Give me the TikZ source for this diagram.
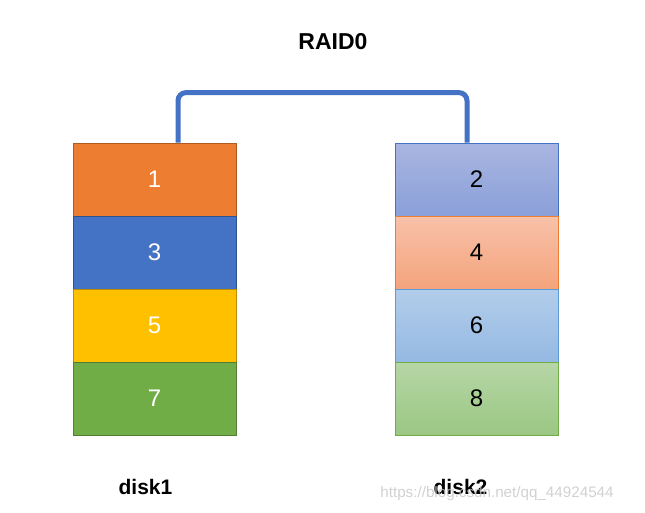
\documentclass[tikz,border=0pt]{standalone}
\usepackage{fontspec}
\setmainfont{Liberation Sans}
\usetikzlibrary{positioning}

\definecolor{raidblue}{HTML}{4472C4}

\begin{document}
\begin{tikzpicture}[x=1pt, y=-1pt,
    blk/.style={draw, minimum width=163pt, minimum height=73pt, inner sep=0pt,
                line width=0.8pt, font=\fontsize{24}{24}\selectfont},
    link/.style={line width=5pt, raidblue, rounded corners=8pt},
    lbl/.style={inner sep=0pt, font=\fontsize{21}{21}\selectfont\bfseries}]

        % 1. VARIABLES
        \def\XL{154.5}  % centre of disk1 column
        \def\XR{476.5}  % centre of disk2 column
        \def\YT{179.5}  % centre of the first stripe
        \def\H{73}      % height of one stripe

        \useasboundingbox (0,0) rectangle (645,512);

        % ==========================================
        % 2. DISK1 (odd stripes)
        % ==========================================
        \foreach \n/\r/\fc/\dc in {1/0/ED7D31/AE5A21, 3/1/4472C4/2F528F,
                                   5/2/FFC000/BC8C00, 7/3/70AD47/507E32} {
            \definecolor{fc}{HTML}{\fc}
            \definecolor{dc}{HTML}{\dc}
            \node[blk, fill=fc, draw=dc, text=white] (b\n) at (\XL, \YT+\r*\H) {\n};
        }

        % ==========================================
        % 3. DISK2 (even stripes, shaded)
        % ==========================================
        \foreach \n/\r/\tc/\bc/\dc in {2/0/A9B5E1/8AA0D8/4472C4, 4/1/F8C1A9/F4A47C/ED7D31,
                                       6/2/B2CDEA/95B9E3/5B9BD5, 8/3/B6D6A6/9BC783/70AD47} {
            \definecolor{tc}{HTML}{\tc}
            \definecolor{bc}{HTML}{\bc}
            \definecolor{dc}{HTML}{\dc}
            \node[blk, top color=tc, bottom color=bc, draw=dc, text=black] (b\n) at (\XR, \YT+\r*\H) {\n};
        }

        % ==========================================
        % 4. STRIPING LINK AND LABELS
        % ==========================================
        \draw[link] ([xshift=23.5pt]b1.north) -- ++(0,-50) -| ([xshift=-9.5pt]b2.north);

        \node[lbl, font=\fontsize{23}{23}\selectfont\bfseries] (raid) at (333, 42) {RAID0};
        \node[lbl, below=44pt of b7, xshift=-9pt] (disk1) {disk1};
        \node[lbl, below=44pt of b8, xshift=-16pt] (disk2) {disk2};

        % watermark
        \node[inner sep=0pt, anchor=base, text=gray!45, opacity=0.8,
              font=\fontsize{15.2}{15.2}\selectfont] (mark) at (497, 497) {https://blog.csdn.net/qq\_44924544};

    \end{tikzpicture}
\end{document}
